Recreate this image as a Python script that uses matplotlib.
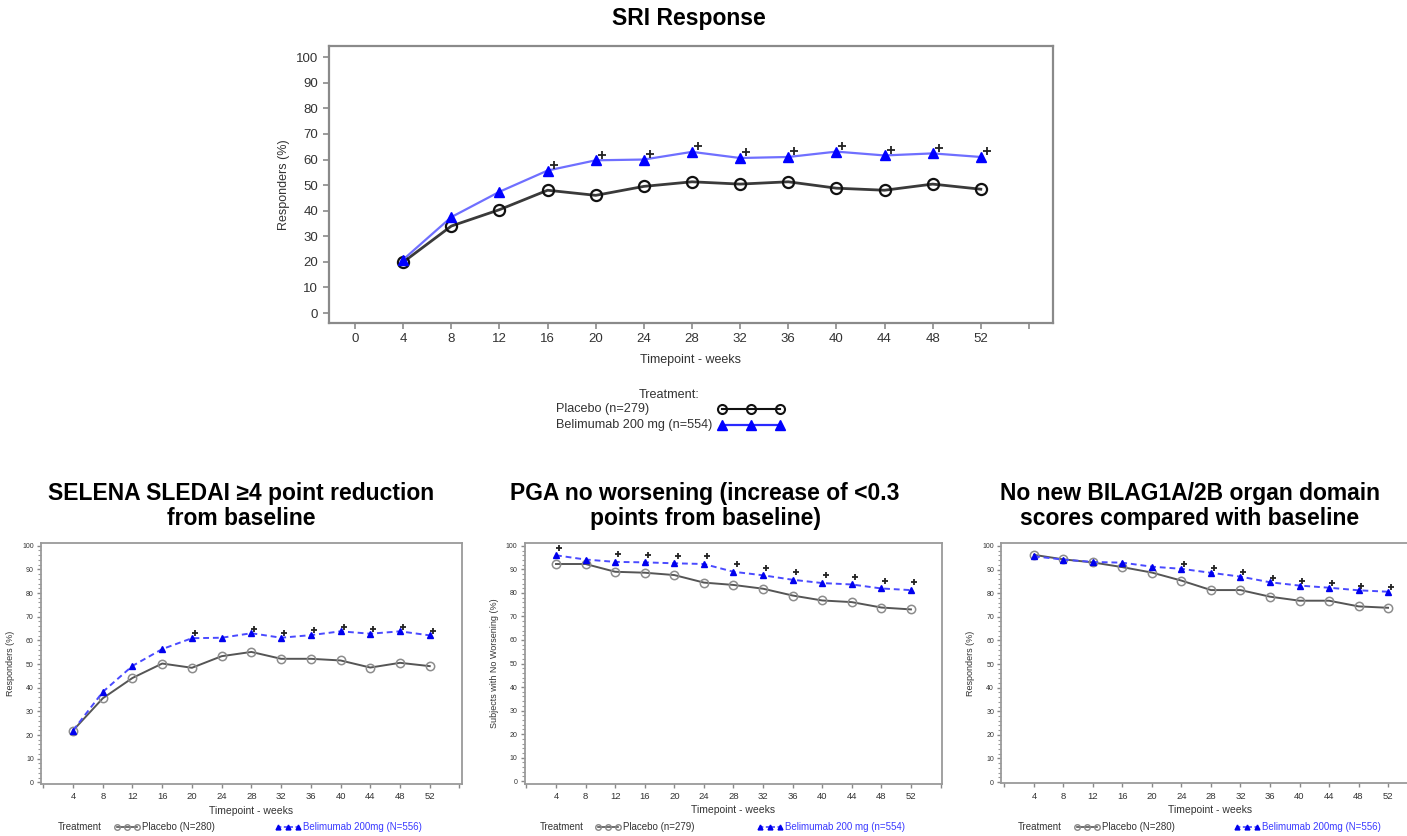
import numpy as np
import matplotlib
matplotlib.use("Agg")
import matplotlib.pyplot as plt
from matplotlib.lines import Line2D
from matplotlib.ticker import MultipleLocator, FixedLocator

plt.rcParams['font.family'] = ['Liberation Sans', 'DejaVu Sans']

# ---- data ----
weeks = [4, 8, 12, 16, 20, 24, 28, 32, 36, 40, 44, 48, 52]

sri_placebo = [19.9, 34.0, 40.4, 48.0, 46.0, 49.5, 51.3, 50.4, 51.3, 48.8, 48.0, 50.4, 48.4]
sri_belim = [20.9, 37.5, 47.4, 55.7, 59.7, 60.0, 63.0, 60.6, 61.0, 63.1, 61.6, 62.4, 61.0]
sri_sig = [16, 20, 24, 28, 32, 36, 40, 44, 48, 52]

selena_placebo = [21.9, 35.5, 44.1, 50.2, 48.4, 53.3, 55.1, 52.2, 52.2, 51.5, 48.5, 50.5, 49.1]
selena_belim = [21.9, 38.2, 49.2, 56.3, 60.9, 61.1, 63.0, 61.1, 62.2, 63.8, 62.8, 63.8, 62.1]
selena_sig = [20, 28, 32, 36, 40, 44, 48, 52]

pga_placebo = [92.3, 92.3, 89.0, 88.6, 87.6, 84.4, 83.4, 81.8, 78.9, 76.8, 76.1, 73.8, 73.0]
pga_belim = [96.0, 94.2, 93.2, 93.0, 92.6, 92.3, 89.0, 87.5, 85.6, 84.2, 83.6, 81.9, 81.2]
pga_sig = [4, 12, 16, 20, 24, 28, 32, 36, 40, 44, 48, 52]

bilag_placebo = [96.2, 94.3, 93.0, 91.0, 88.7, 85.3, 81.3, 81.3, 78.5, 76.8, 76.8, 74.4, 73.8]
bilag_belim = [95.6, 94.2, 93.2, 92.9, 91.2, 90.3, 88.6, 87.0, 84.6, 83.2, 82.3, 81.2, 80.6]
bilag_sig = [24, 28, 32, 36, 40, 44, 48, 52]

W, H = 1407, 836
fig = plt.figure(figsize=(W / 100, H / 100), dpi=100)


def px_axes(l, t, r, b):
    return fig.add_axes([l / W, (H - b) / H, (r - l) / W, (b - t) / H])


def fx(x):
    return x / W


def fy(y):
    return 1 - y / H


FRAME = '#8a8a8a'
TXT = '#333333'

# ---------------- top chart: SRI ----------------
ax = px_axes(328.7, 45.7, 1053, 323)
ax.plot(weeks, sri_placebo, color='#3a3a3a', lw=2.0, marker='o', ms=8,
        mfc='none', mec='#111111', mew=1.6, zorder=3)
ax.plot(weeks, sri_belim, color='#6f6fff', lw=1.6, marker='^', ms=7.5,
        mfc='#0000ff', mec='#0000ff', zorder=4)
sig_y = [sri_belim[weeks.index(w)] for w in sri_sig]
ax.plot(np.array(sri_sig) + 0.5, np.array(sig_y) + 2.2, ls='none', marker='+',
        ms=6, mew=1.3, color='#222222', zorder=5)
ax.set_xlim(-2.19, 58.0)
ax.set_ylim(-3.9, 104.5)
ax.xaxis.set_major_locator(FixedLocator(list(range(0, 57, 4))))
ax.set_xticklabels([str(v) if v <= 52 else '' for v in range(0, 57, 4)])
ax.set_yticks(range(0, 101, 10))
for sp in ax.spines.values():
    sp.set_color(FRAME)
    sp.set_linewidth(1.6)
ax.tick_params(direction='out', length=4, width=1.2, color=FRAME,
               labelsize=9.5, labelcolor=TXT)
ax.set_ylabel('Responders (%)', fontsize=9, color=TXT, labelpad=4)
ax.set_xlabel('Timepoint - weeks', fontsize=9, color=TXT, labelpad=6)
fig.text(fx(689), fy(18), 'SRI Response', ha='center', va='center',
         fontsize=16.5, fontweight='bold')

# top legend
fig.text(fx(669), fy(395), 'Treatment:', ha='center', va='center',
         fontsize=9.1, color=TXT)
fig.text(fx(556), fy(409), 'Placebo (n=279)', ha='left', va='center',
         fontsize=9.1, color=TXT)
fig.text(fx(556), fy(425), 'Belimumab 200 mg (n=554)', ha='left', va='center',
         fontsize=9.1, color=TXT)
lxs = np.array([722, 751, 780])
fig.add_artist(Line2D(fx(lxs), [fy(409)] * 3, color='#111111', lw=1.5,
                      marker='o', ms=6.5, mfc='none', mec='#111111', mew=1.5))
fig.add_artist(Line2D(fx(lxs), [fy(425)] * 3, color='#2a2aff', lw=1.6,
                      marker='^', ms=6.5, mfc='#0000ff', mec='#0000ff'))

# ---------------- bottom panels ----------------
panels = [
    dict(box=(40.7, 543.3, 461.7, 784.0), xlim=(-0.35, 56.3), ylim=(-0.7, 101.0),
         pl=selena_placebo, bl=selena_belim, sig=selena_sig, dy=2.0, dx=0.4,
         ylabel='Responders (%)', title='SELENA SLEDAI \u22654 point reduction\nfrom baseline',
         tx=241, labs=('Placebo (N=280)', 'Belimumab 200mg (N=556)'),
         lx=(58, 117, 278)),
    dict(box=(524.5, 543.3, 942.0, 783.5), xlim=(-0.26, 56.2), ylim=(-1.0, 101.1),
         pl=pga_placebo, bl=pga_belim, sig=pga_sig, dy=3.3, dx=0.45,
         ylabel='Subjects with No Worsening (%)',
         title='PGA no worsening (increase of <0.3\npoints from baseline)',
         tx=705, labs=('Placebo (n=279)', 'Belimumab 200 mg (n=554)'),
         lx=(540, 598, 760)),
    dict(box=(1001.0, 543.3, 1419.0, 783.3), xlim=(-0.47, 56.2), ylim=(-0.5, 101.1),
         pl=bilag_placebo, bl=bilag_belim, sig=bilag_sig, dy=2.0, dx=0.4,
         ylabel='Responders (%)',
         title='No new BILAG1A/2B organ domain\nscores compared with baseline',
         tx=1190, labs=('Placebo (N=280)', 'Belimumab 200mg (N=556)'),
         lx=(1018, 1077, 1237)),
]

for p in panels:
    l, t, r, b = p['box']
    ax = px_axes(l, t, r, b)
    ax.plot(weeks, p['pl'], color='#555555', lw=1.4, marker='o', ms=6,
            mfc='none', mec='#8c8c8c', mew=1.1, zorder=3)
    ax.plot(weeks, p['bl'], color='#4a4aff', lw=1.4, ls=(0, (3, 2)), marker='^',
            ms=4.5, mfc='#0000ee', mec='#0000ee', zorder=4)
    sy = [p['bl'][weeks.index(w)] for w in p['sig']]
    ax.plot(np.array(p['sig']) + p['dx'], np.array(sy) + p['dy'], ls='none',
            marker='+', ms=5, mew=1.3, color='#222222', zorder=5)
    ax.set_xlim(*p['xlim'])
    ax.set_ylim(*p['ylim'])
    ax.xaxis.set_major_locator(FixedLocator(list(range(0, 57, 4))))
    ax.set_xticklabels([str(v) if 4 <= v <= 52 else '' for v in range(0, 57, 4)])
    ax.set_yticks(range(0, 101, 10))
    ax.yaxis.set_minor_locator(MultipleLocator(2))
    for sp in ax.spines.values():
        sp.set_color('#9a9a9a')
        sp.set_linewidth(1.3)
    ax.tick_params(axis='x', direction='out', length=3, width=1, color='#888888',
                   labelsize=6.8, labelcolor=TXT, pad=3)
    ax.tick_params(axis='y', which='major', direction='out', length=3, width=1,
                   color='#888888', labelsize=5, labelcolor=TXT, pad=2)
    ax.tick_params(axis='y', which='minor', direction='out', length=2, width=0.8,
                   color='#999999')
    ax.set_ylabel(p['ylabel'], fontsize=6.5, color=TXT, labelpad=5)
    ax.set_xlabel('Timepoint - weeks', fontsize=7.5, color=TXT, labelpad=3)

    fig.text(fx(p['tx']), fy(506), p['title'], ha='center', va='center',
             fontsize=16.5, fontweight='bold', linespacing=1.15)

    # legend row
    ly = fy(827)
    fig.text(fx(p['lx'][0]), ly, 'Treatment', fontsize=7, color=TXT, va='center')
    x0 = p['lx'][1]
    fig.add_artist(Line2D(fx(np.array([x0, x0 + 10, x0 + 20])), [ly] * 3,
                          color='#555555', lw=1.2, marker='o', ms=4, mfc='none',
                          mec='#888888', mew=1))
    fig.text(fx(x0 + 25), ly, p['labs'][0], fontsize=7, color=TXT, va='center')
    x1 = p['lx'][2]
    fig.add_artist(Line2D(fx(np.array([x1, x1 + 10, x1 + 20])), [ly] * 3,
                          color='#4a4aff', lw=1.2, ls=(0, (2, 1.5)), marker='^',
                          ms=3.5, mfc='#0000ee', mec='#0000ee'))
    fig.text(fx(x1 + 25), ly, p['labs'][1], fontsize=7, color='#3a3aff',
             va='center')

fig.savefig('out.png', dpi=100)
